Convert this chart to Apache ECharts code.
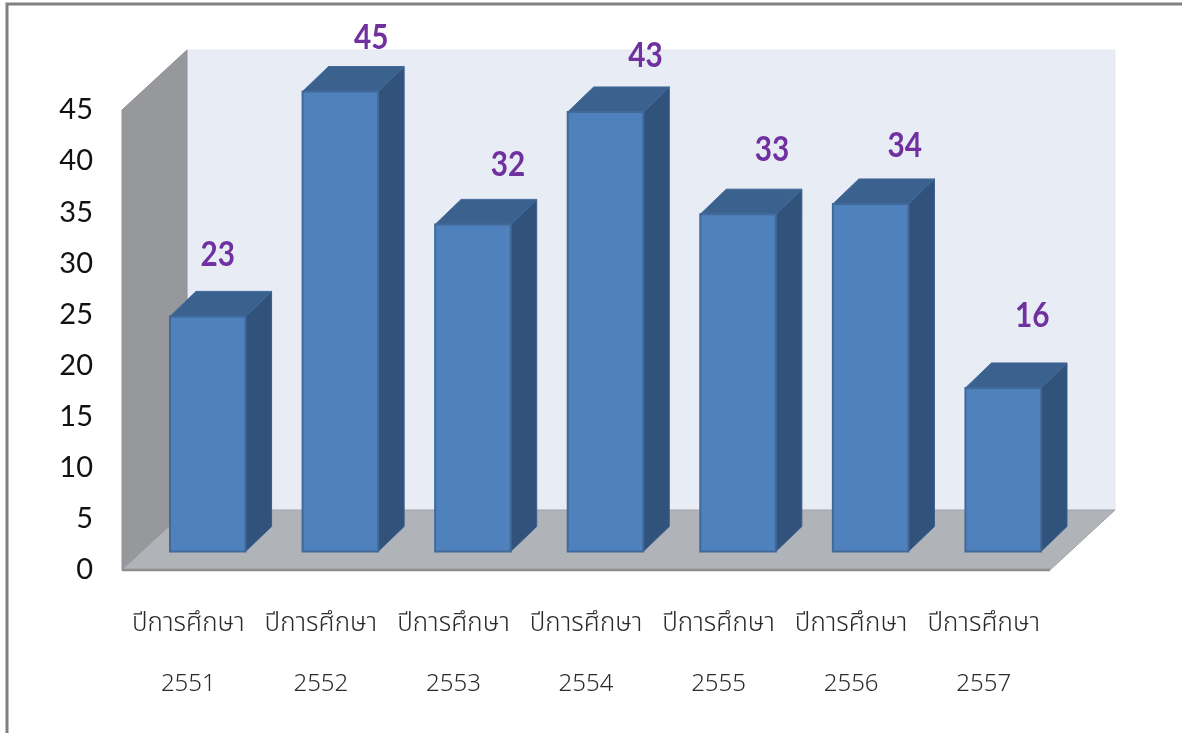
<!DOCTYPE html>
<html>
<head>
<meta charset="utf-8">
<style>html,body{margin:0;padding:0;background:#fff}#c{width:1182px;height:733px}</style>
<script src="https://cdn.jsdelivr.net/npm/echarts@6/dist/echarts.min.js"></script>
</head>
<body>
<div id="c"></div>
<script>
const yearLabel = 'ปีการศึกษา';
const years = ['2551','2552','2553','2554','2555','2556','2557'];
const values = [23,45,32,43,33,34,16];
const yTicks = {min:0,max:45,interval:5};
// hand-placed data label nudges in the reference (dx, dy from the bar's top centre)
const labelDx = [10,31,35,40,34,34,29];
const labelDy = [-63,-55,-61,-57,-65,-59,-73];

const wallDepth = [65,-60];      // back wall offset from the front plane
const barShift = [19.5,-18.5];   // bars stand part-way into the floor
const barDepth = [26,-25];

const chart = echarts.init(document.getElementById('c'), null, {renderer:'canvas'});

function poly(points, fill, stroke, lw){
  return {type:'polygon', shape:{points}, style:{fill, stroke:stroke||fill, lineWidth:lw==null?1:lw}};
}

const thai = '"Noto Sans Thai",Loma,Garuda,"Liberation Sans",sans-serif';

chart.setOption({
  animation:false,
  backgroundColor:'#ffffff',
  grid:{left:122, top:110, width:928, height:460, containLabel:false},
  xAxis:{type:'category', data:years, axisTick:{show:false}, axisLine:{show:false}, splitLine:{show:false},
    axisLabel:{interval:0, margin:26,
      formatter:v=>'{t|'+yearLabel+'}\n{y|'+v+'}',
      rich:{
        t:{fontFamily:thai, fontSize:26, fontWeight:300, lineHeight:60, color:'#2a2a2a'},
        y:{fontFamily:thai, fontSize:24, fontWeight:300, lineHeight:60, color:'#2a2a2a'}
      }}},
  yAxis:{type:'value', min:yTicks.min, max:yTicks.max, interval:yTicks.interval, axisTick:{show:false}, axisLine:{show:false}, splitLine:{show:false},
    axisLabel:{margin:29, padding:[3,0,0,0], fontFamily:'Lato,"Open Sans",sans-serif', fontSize:29, color:'#111111'}},
  graphic:[{type:'polyline', silent:true, shape:{points:[[7,733],[7,4],[1182,4]]}, style:{fill:null, stroke:'#808080', lineWidth:3}}],
  series:[
    {type:'custom', coordinateSystem:'cartesian2d', silent:true, z:1, data:[0],
     renderItem(params, api){
       const r = params.coordSys;
       const x0=r.x, x1=r.x+r.width, yT=r.y, yB=r.y+r.height;
       const dx=wallDepth[0], dy=wallDepth[1];
       return {type:'group', children:[
         poly([[x0+dx,yT+dy],[x1+dx,yT+dy],[x1+dx,yB+dy],[x0+dx,yB+dy]],'#e8ecf5','#e3e7f0'),
         poly([[x0,yT],[x0+dx,yT+dy],[x0+dx,yB+dy],[x0,yB]],'#97989c','#8f9094'),
         poly([[x0,yB],[x0+dx,yB+dy],[x1+dx,yB+dy],[x1,yB]],'#b0b3b7','#a0a3a7'),
         {type:'line', shape:{x1:x0,y1:yB,x2:x1,y2:yB}, style:{stroke:'#8c8d8f', lineWidth:2.5}}
       ]};
     }},
    {type:'custom', coordinateSystem:'cartesian2d', silent:true, z:2,
     encode:{x:0,y:1}, data:values.map((v,i)=>[i,v]),
     renderItem(params, api){
       const i = api.value(0), v = api.value(1);
       const top = api.coord([i,v]), base = api.coord([i,0]);
       const w = api.size([1,0])[0]*0.57;
       const l = top[0]+barShift[0]-w/2, r = l+w;
       const t = top[1]+barShift[1], b = base[1]+barShift[1];
       const dx = barDepth[0], dy = barDepth[1];
       return {type:'group', children:[
         poly([[r,t],[r+dx,t+dy],[r+dx,b+dy],[r,b]],'#31527b','#3a5f8e'),
         poly([[l,t],[l+dx,t+dy],[r+dx,t+dy],[r,t]],'#3b618f','#41699a'),
         poly([[l,t],[r,t],[r,b],[l,b]],'#4f81bd','#41699a',2),
         {type:'text', x:l+w/2+labelDx[i], y:t+labelDy[i]+1, scaleX:0.85,
          style:{text:String(v), x:0, y:0, align:'center', verticalAlign:'middle',
           font:'bold 35px Lato,"Open Sans",sans-serif', fill:'#7030a0'}}
       ]};
     }}
  ]
});
</script>
</body>
</html>
